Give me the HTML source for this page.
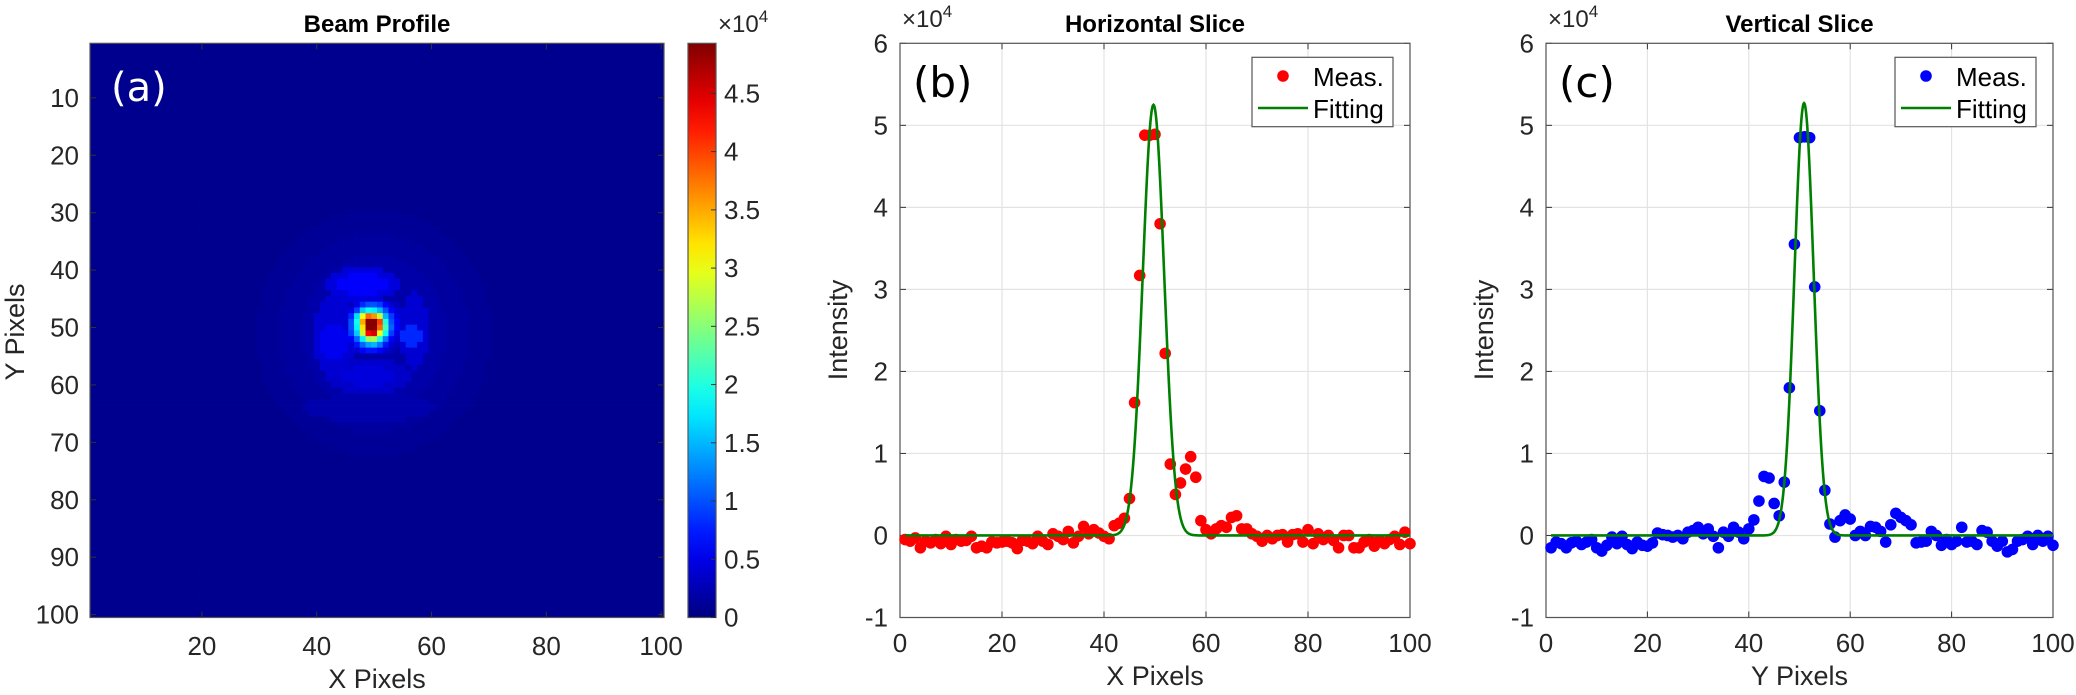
<!DOCTYPE html>
<html><head><meta charset="utf-8"><style>
body{margin:0;background:#fff;}
svg{display:block;font-family:"Liberation Sans",Arial,sans-serif;}
</style></head><body>
<svg id="fig" width="2076" height="695" viewBox="0 0 2076 695" xmlns="http://www.w3.org/2000/svg"></svg>
<script>
// ---- data ----
const bgLevel = 0.07; // x1e4
// core 9x9, rows 46..54, cols 46..54 (x1e4)
const coreRows = [
[0.3,0.5,0.8,1.0,1.0,0.9,0.6,0.4,0.3],
[0.5,0.9,1.6,1.9,1.8,1.5,1.0,0.6,0.4],
[0.8,1.7,3.0,3.8,3.6,2.8,1.5,0.9,0.5],
[1.0,1.9,3.5,4.9,4.9,4.0,2.0,1.0,0.6],
[1.0,1.8,3.2,4.9,4.9,3.8,2.2,1.1,0.6],
[0.9,1.6,2.8,4.3,4.5,3.0,1.9,0.9,0.5],
[0.6,1.1,1.8,2.6,2.7,2.0,1.2,0.6,0.4],
[0.4,0.7,1.1,1.4,1.5,1.2,0.7,0.4,0.3],
[0.3,0.4,0.6,0.7,0.7,0.6,0.4,0.3,0.2]];
const coreStart = [46,46];
// ring features (ellipses): [x0,x1,y0,y1,value]
const ringBlobs = [
[30,70,30,72,0.11],
[34,66,34,68,0.15],
[38,62,38,64,0.2],
[42,54,40,45,0.45],
[44,52,41,44,0.6],
[55,59,44,57,0.4],
[55,58,50,53,0.8],
[40,46,45,58,0.4],
[41,45,50,55,0.55],
[42,56,56,61,0.35],
[45,53,57,60,0.45],
[38,60,62,66,0.22]];
const hCats = Array.from({length:100},(_,i)=>i+1);
const hVals = [-0.05,-0.07,-0.03,-0.15,-0.07,-0.09,-0.05,-0.1,-0.01,-0.11,-0.05,-0.07,-0.06,-0.01,-0.15,-0.13,-0.15,-0.08,-0.09,-0.08,-0.07,-0.09,-0.16,-0.06,-0.07,-0.1,-0.01,-0.07,-0.11,0.02,-0.01,-0.05,0.05,-0.09,-0.01,0.11,0.02,0.07,0.03,-0.01,-0.04,0.12,0.15,0.21,0.45,1.62,3.17,4.88,4.88,4.89,3.8,2.22,0.87,0.5,0.64,0.81,0.96,0.71,0.18,0.07,0.02,0.08,0.12,0.1,0.22,0.24,0.08,0.08,0.02,-0.01,-0.07,0,-0.04,0,0.01,-0.08,0.01,0.02,-0.08,0.07,-0.1,0.02,-0.05,0,-0.06,-0.15,0,0,-0.15,-0.15,-0.08,-0.05,-0.13,-0.06,-0.1,-0.05,-0.01,-0.11,0.04,-0.1];
const vVals = [-0.15,-0.08,-0.1,-0.15,-0.09,-0.07,-0.11,-0.08,-0.05,-0.15,-0.19,-0.12,-0.02,-0.1,-0.01,-0.11,-0.16,-0.08,-0.12,-0.13,-0.09,0.03,0.01,0,-0.02,0,-0.04,0.04,0.06,0.1,0.02,0.08,-0.01,-0.15,0.04,-0.01,0.1,0.04,-0.04,0.08,0.19,0.42,0.72,0.7,0.39,0.24,0.65,1.8,3.55,4.85,4.86,4.85,3.03,1.52,0.55,0.14,-0.02,0.18,0.25,0.2,0,0.05,0,0.11,0.1,0.05,-0.08,0.13,0.27,0.22,0.18,0.13,-0.09,-0.08,-0.07,0.05,0,-0.12,-0.05,-0.11,-0.07,0.1,-0.08,-0.07,-0.11,0.06,0.04,-0.07,-0.13,-0.07,-0.2,-0.17,-0.07,-0.05,-0.01,-0.11,0,-0.07,-0.01,-0.12];
const hFit = [5.25,49.7,2.1,0]; // amp, center, sigma, offset
const vFit = [5.27,50.9,1.9,0];
const yTicks = [-1,0,1,2,3,4,5,6];
const xTicks = [0,20,40,60,80,100];
const imgTicks = [10,20,30,40,50,60,70,80,90,100];
const imgXTicks = [20,40,60,80,100];
const cbTicks = [0,0.5,1,1.5,2,2.5,3,3.5,4,4.5];
const cbMax = 4.93;

// ---- helpers ----
const NS="http://www.w3.org/2000/svg", svg=document.getElementById('fig');
function mk(tag,attrs,parent,txt){const e=document.createElementNS(NS,tag);for(const k in attrs)e.setAttribute(k,attrs[k]);if(txt!==undefined)e.textContent=txt;(parent||svg).appendChild(e);return e;}
function jet(t){t=Math.max(0,Math.min(1,t));const c=v=>Math.round(255*Math.max(0,Math.min(1,v)));return `rgb(${c(1.5-Math.abs(4*t-3))},${c(1.5-Math.abs(4*t-2))},${c(1.5-Math.abs(4*t-1))})`;}
const TC="#262626";

// ---- panel a ----
const A={x0:90,x1:664,y0:43.3,y1:617.5};
const cw=(A.x1-A.x0)/100, ch=(A.y1-A.y0)/100;
const grid=[];for(let r=0;r<100;r++){grid.push(new Array(100).fill(bgLevel));}
ringBlobs.forEach(b=>{for(let y=b[2];y<=b[3];y++)for(let x=b[0];x<=b[1];x++){const cx=(b[0]+b[1])/2,cy=(b[2]+b[3])/2,rx=(b[1]-b[0])/2+0.5,ry=(b[3]-b[2])/2+0.5;if(((x-cx)/rx)**2+((y-cy)/ry)**2<=1.0)grid[y-1][x-1]=Math.max(grid[y-1][x-1],b[4]);}});
coreRows.forEach((row,i)=>row.forEach((v,j)=>{const y=coreStart[1]+i,x=coreStart[0]+j;grid[y-1][x-1]=Math.max(grid[y-1][x-1],v);}));
const gA=mk('g',{});


for(let r=0;r<100;r++)for(let c=0;c<100;c++){
 const e=mk('rect',{x:(A.x0+c*cw).toFixed(2),y:(A.y0+r*ch).toFixed(2),width:(cw+0.4).toFixed(2),height:(ch+0.4).toFixed(2),fill:jet(grid[r][c]/cbMax)},gA);
 
 
}
mk('rect',{x:A.x0,y:A.y0,width:A.x1-A.x0,height:A.y1-A.y0,fill:'none',stroke:'#555','stroke-width':1.2,});
imgTicks.forEach(t=>{const y=A.y0+(t-0.5)*ch;
 mk('line',{x1:A.x0,x2:A.x0+6,y1:y,y2:y,stroke:'#333'});mk('line',{x1:A.x1,x2:A.x1-6,y1:y,y2:y,stroke:'#333'});
 const e=mk('text',{x:79,y:y+9,'text-anchor':'end','font-size':26,fill:TC},svg,t);});
imgXTicks.forEach(t=>{const x=A.x0+(t-0.5)*cw;
 mk('line',{x1:x,x2:x,y1:A.y1,y2:A.y1-6,stroke:'#333'});mk('line',{x1:x,x2:x,y1:A.y0,y2:A.y0+6,stroke:'#333'});
 const e=mk('text',{x:x,y:655,'text-anchor':'middle','font-size':26,fill:TC},svg,t);});
mk('text',{x:377,y:32,'text-anchor':'middle','font-size':24,'font-weight':'bold',fill:'#000',},svg,'Beam Profile');
mk('text',{x:377,y:688,'text-anchor':'middle','font-size':27,fill:TC,},svg,'X Pixels');
mk('text',{x:24,y:332,'text-anchor':'middle','font-size':27,fill:TC,transform:'rotate(-90 24 332)',},svg,'Y Pixels');
mk('text',{x:111,y:101,'font-size':40,fill:'#fff','font-family':'DejaVu Sans, sans-serif',},svg,'(a)');

// colorbar
const CB={x0:688,x1:716};
const defs=mk('defs',{});const lg=mk('linearGradient',{id:'jetg',x1:0,y1:1,x2:0,y2:0},defs);
for(let i=0;i<=20;i++)mk('stop',{offset:i/20,'stop-color':jet(i/20)},lg);
mk('rect',{x:CB.x0,y:A.y0,width:CB.x1-CB.x0,height:A.y1-A.y0,fill:'url(#jetg)',stroke:'#555','stroke-width':1.2,});
cbTicks.forEach(t=>{const y=A.y1-(t/cbMax)*(A.y1-A.y0);
 mk('line',{x1:CB.x1,x2:CB.x1-5,y1:y,y2:y,stroke:'#333'});
 const e=mk('text',{x:724,y:y+9,'font-size':26,fill:TC},svg,t);});
function exp10(x,y,name){const t=mk('text',{x:x,y:y,'font-size':24,fill:TC,});mk('tspan',{},t,'×10');mk('tspan',{dy:-10,'font-size':17},t,'4');}
exp10(718,32,'colorbar-exponent');

// ---- line panels ----
function panel(x0,w,vals,fit,color,xlabel,title,lab,id){
 const P={x0:x0,x1:x0+w,y0:43.3,y1:617.5};
 const X=v=>P.x0+v/100*(P.x1-P.x0), Y=v=>P.y1-(v+1)/7*(P.y1-P.y0);
 const g=mk('g',{});
 xTicks.forEach(t=>{mk('line',{x1:X(t),x2:X(t),y1:P.y0,y2:P.y1,stroke:'#e3e3e3','stroke-width':1.2},g);
  const e=mk('text',{x:X(t),y:652,'text-anchor':'middle','font-size':26,fill:TC},g,t);});
 yTicks.forEach(t=>{mk('line',{x1:P.x0,x2:P.x1,y1:Y(t),y2:Y(t),stroke:'#e3e3e3','stroke-width':1.2},g);
  mk('line',{x1:P.x0,x2:P.x0+6,y1:Y(t),y2:Y(t),stroke:'#333'},g);mk('line',{x1:P.x1,x2:P.x1-6,y1:Y(t),y2:Y(t),stroke:'#333'},g);
  const e=mk('text',{x:P.x0-12,y:Y(t)+9,'text-anchor':'end','font-size':26,fill:TC},g,t);});
 xTicks.forEach(t=>{mk('line',{x1:X(t),x2:X(t),y1:P.y1,y2:P.y1-6,stroke:'#333'},g);mk('line',{x1:X(t),x2:X(t),y1:P.y0,y2:P.y0+6,stroke:'#333'},g);});
 mk('rect',{x:P.x0,y:P.y0,width:P.x1-P.x0,height:P.y1-P.y0,fill:'none',stroke:'#555','stroke-width':1.2,},g);
 vals.forEach((v,i)=>{const c=mk('circle',{cx:X(hCats[i]).toFixed(2),cy:Y(v).toFixed(2),r:5.8,fill:color},g);
  });
 let d='';for(let k=0;k<=990;k++){const x=1+k*0.1;const v=fit[0]*Math.exp(-((x-fit[1])**2)/(2*fit[2]**2))+fit[3];d+=(k?'L':'M')+X(x).toFixed(2)+','+Y(v).toFixed(2);}
 const fl=mk('path',{d:d,fill:'none',stroke:'#008000','stroke-width':2.6},g);
 const cx=(P.x0+P.x1)/2;
 mk('text',{x:cx,y:32,'text-anchor':'middle','font-size':24,'font-weight':'bold',fill:'#000',},g,title);
 mk('text',{x:cx,y:685,'text-anchor':'middle','font-size':27,fill:TC,},g,xlabel);
 mk('text',{x:P.x0-53,y:330,'text-anchor':'middle','font-size':27,fill:TC,transform:`rotate(-90 ${P.x0-53} 330)`,},g,'Intensity');
 mk('text',{x:P.x0+13,y:97,'font-size':42,fill:'#000','font-family':'DejaVu Sans, sans-serif',},g,'('+lab+')');
 exp10(P.x0+2,27,'y-exponent');
 const L={x0:P.x1-158,y0:57.3,w:141,h:69.4};
 const lgd=mk('g',{},g);
 mk('rect',{x:L.x0,y:L.y0,width:L.w,height:L.h,fill:'#fff',stroke:'#555','stroke-width':1.2},lgd);
 mk('circle',{cx:L.x0+31,cy:76,r:5.8,fill:color,},lgd);
 mk('text',{x:L.x0+61,y:86,'font-size':26,fill:'#000',},lgd,'Meas.');
 mk('line',{x1:L.x0+6,x2:L.x0+56,y1:108,y2:108,stroke:'#008000','stroke-width':2.6,},lgd);
 mk('text',{x:L.x0+61,y:118,'font-size':26,fill:'#000',},lgd,'Fitting');
}
panel(900,510,hVals,hFit,'#ff0000','X Pixels','Horizontal Slice','b','horizontal-slice');
panel(1546,507,vVals,vFit,'#0000ff','Y Pixels','Vertical Slice','c','vertical-slice');
</script>
</body></html>
